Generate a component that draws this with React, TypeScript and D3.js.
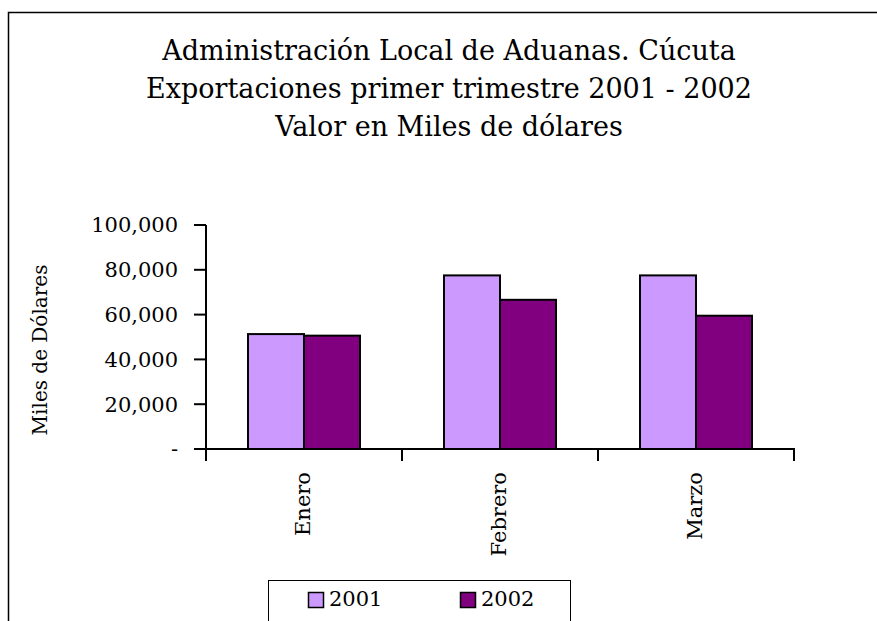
import React from 'react';
import * as d3 from 'd3';

const months = ['Enero', 'Febrero', 'Marzo'];
const years = ['2001', '2002'];
const values2001 = [51300, 77500, 77500];
const values2002 = [50600, 66600, 59500];
const yTicks = [0, 20000, 40000, 60000, 80000, 100000];
const titleLines = [
  'Administración Local de Aduanas. Cúcuta',
  'Exportaciones primer trimestre 2001 - 2002',
  'Valor en Miles de dólares',
];
const colors = ['#cc99ff', '#800080'];

const font = "'DejaVu Serif', serif";

export default function App() {
  const width = 877;
  const height = 621;

  const y = d3.scaleLinear().domain([0, 100000]).range([449, 225]);
  const x0 = d3.scaleBand().domain(months).range([206, 794]).padding(0);
  const x1 = d3.scaleBand().domain(years).range([42, x0.bandwidth() - 42]).padding(0);
  const series = [values2001, values2002];
  const fmt = (v: number) => (v === 0 ? '-' : d3.format(',')(v));

  return (
    <svg width={width} height={height} style={{ position: 'absolute', left: 0, top: 0, fontFamily: font }}>
      <rect x={0} y={0} width={width} height={height} fill="#fff" />
      <rect x={8.5} y={12.5} width={width} height={height} fill="none" stroke="#000" strokeWidth={1.5} />

      {titleLines.map((t, i) => (
        <text key={t} x={449} y={60 + i * 38} textAnchor="middle" fontSize={27} fill="#000">
          {t}
        </text>
      ))}

      {/* bars */}
      {months.map((m, i) => (
        <g key={m} transform={`translate(${x0(m)},0)`}>
          {years.map((yr, j) => (
            <rect
              key={yr}
              x={x1(yr)}
              y={y(series[j][i])}
              width={x1.bandwidth()}
              height={y(0) - y(series[j][i])}
              fill={colors[j]}
              stroke="#000"
              strokeWidth={2}
            />
          ))}
        </g>
      ))}

      {/* y axis */}
      <line x1={206} x2={206} y1={y(100000)} y2={y(0)} stroke="#000" strokeWidth={2} />
      {yTicks.map((t) => (
        <g key={t}>
          <line x1={194} x2={206} y1={y(t)} y2={y(t)} stroke="#000" strokeWidth={2} />
          <text x={178} y={y(t)} dy="0.35em" textAnchor="end" fontSize={21} fill="#000">
            {fmt(t)}
          </text>
        </g>
      ))}
      <text
        transform={`translate(47,${(y(0) + y(100000)) / 2 + 13}) rotate(-90)`}
        textAnchor="middle"
        fontSize={20}
        fill="#000"
      >
        Miles de Dólares
      </text>

      {/* x axis */}
      <line x1={205} x2={795} y1={y(0)} y2={y(0)} stroke="#000" strokeWidth={2} />
      {[...months.map((m) => x0(m) as number), 794].map((t, i) => (
        <line key={i} x1={t} x2={t} y1={y(0)} y2={y(0) + 12} stroke="#000" strokeWidth={2} />
      ))}
      {months.map((m) => (
        <text
          key={m}
          transform={`translate(${(x0(m) as number) + x0.bandwidth() / 2 + 6},472) rotate(-90)`}
          textAnchor="end"
          fontSize={21}
          fill="#000"
        >
          {m}
        </text>
      ))}

      {/* legend */}
      <rect x={268.5} y={580.5} width={302} height={60} fill="#fff" stroke="#000" strokeWidth={1} />
      {years.map((yr, j) => (
        <g key={yr} transform={`translate(${308 + j * 152},592)`}>
          <rect x={0.5} y={0.5} width={15} height={15} fill={colors[j]} stroke="#000" strokeWidth={1.5} />
          <text x={21} y={14} fontSize={21} fill="#000">
            {yr}
          </text>
        </g>
      ))}
    </svg>
  );
}
